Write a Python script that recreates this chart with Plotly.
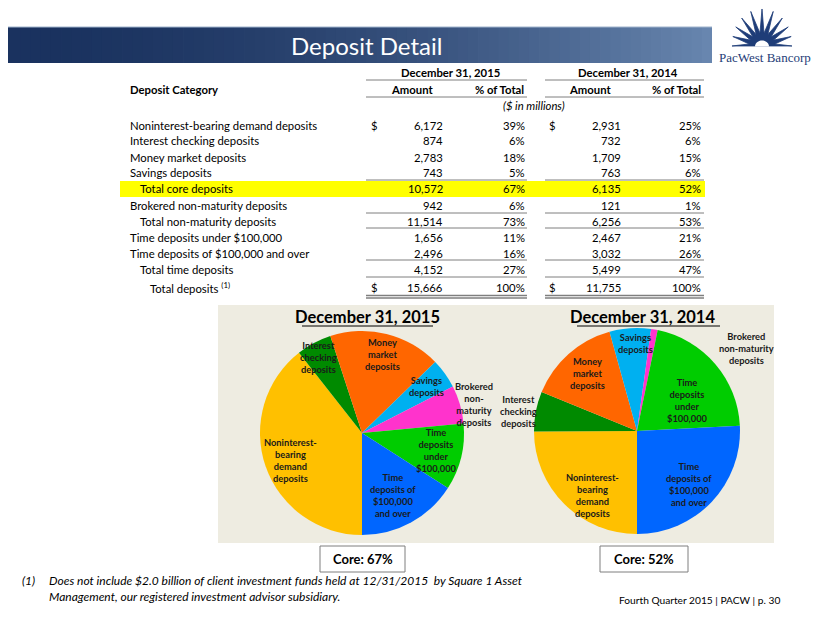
import math
import plotly.graph_objects as go

# ---------------- data ----------------
categories = [
    "Noninterest-bearing demand deposits",
    "Interest checking deposits",
    "Money market deposits",
    "Savings deposits",
    "Total core deposits",
    "Brokered non-maturity deposits",
    "Total non-maturity deposits",
    "Time deposits under $100,000",
    "Time deposits of $100,000 and over",
    "Total time deposits",
    "Total deposits",
]
amount_2015 = [6172, 874, 2783, 743, 10572, 942, 11514, 1656, 2496, 4152, 15666]
pct_2015 = [39, 6, 18, 5, 67, 6, 73, 11, 16, 27, 100]
amount_2014 = [2931, 732, 1709, 763, 6135, 121, 6256, 2467, 3032, 5499, 11755]
pct_2014 = [25, 6, 15, 6, 52, 1, 53, 21, 26, 47, 100]

pie_rows = [0, 1, 2, 3, 5, 7, 8]  # base categories used in the pies
pie_values_2015 = [amount_2015[i] for i in pie_rows]
pie_values_2014 = [amount_2014[i] for i in pie_rows]
pie_names = [categories[i] for i in pie_rows]
pie_colors = ["#FFC000", "#008A00", "#FF6600", "#00B0F0", "#FF33CC", "#00CC00", "#0066FF"]

core_2015 = pct_2015[4]
core_2014 = pct_2014[4]

# ---------------- helpers ----------------
W, H = 830, 623
OFF = 8  # page body margin of the browser
FONT = "Lato, 'Open Sans', sans-serif"


def X(px):
    return max(px - OFF, 0) / W


def Y(py):
    return 1 - max(py - OFF, 0) / H


shapes = []
ann = []


def text(x, y, s, size=11.5, color="#000", xanchor="left", bold=False, italic=False, family=FONT,
         yanchor="middle", align="left"):
    if bold:
        s = "<b>" + s + "</b>"
    if italic:
        s = "<i>" + s + "</i>"
    ann.append(dict(x=X(x), y=Y(y), xref="paper", yref="paper", text=s, showarrow=False,
                    xanchor=xanchor, yanchor=yanchor, align=align,
                    font=dict(family=family, size=size, color=color)))


def hline(x0, x1, y, color="#7f7f7f", width=1):
    shapes.append(dict(type="line", xref="paper", yref="paper", x0=X(x0), x1=X(x1), y0=Y(y), y1=Y(y),
                       line=dict(color=color, width=width)))


def rect(x0, y0, x1, y1, fill, line_color=None, line_width=0, layer="below"):
    shapes.append(dict(type="rect", xref="paper", yref="paper", x0=X(x0), x1=X(x1), y0=Y(y1), y1=Y(y0),
                       fillcolor=fill, line=dict(color=line_color or fill, width=line_width), layer=layer))


# ---------------- header band (gradient) ----------------
n = 70
bx0, bx1 = 0, 712
c0 = (26, 50, 95)
c1 = (104, 134, 175)
for i in range(n):
    t = (i / (n - 1)) ** 1.8
    col = "rgb(%d,%d,%d)" % tuple(int(c0[k] + (c1[k] - c0[k]) * t) for k in range(3))
    xa = bx0 + (bx1 - bx0) * i / n
    xb = bx0 + (bx1 - bx0) * (i + 1) / n + 0.8
    rect(xa, 27, min(xb, bx1), 63, col)
hline(0, 712, 27, color="#9fb3cc", width=1)
text(366, 45, "Deposit Detail", size=24, color="#ffffff", xanchor="center")

# ---------------- logo ----------------
cx, cy = 762, 46
pts = []
nr = 11
for k in range(nr):
    a0 = math.pi * k / (nr - 1)
    length = 30 + 7 * math.sin(a0) ** 2
    pts.append((cx + length * math.cos(math.pi - a0), cy - length * math.sin(math.pi - a0)))
    if k < nr - 1:
        am = math.pi * (k + 0.5) / (nr - 1)
        rin = 13
        pts.append((cx + rin * math.cos(math.pi - am), cy - rin * math.sin(math.pi - am)))
path = "M %f,%f " % (X(cx - 10), Y(cy))
for (px_, py_) in pts:
    path += "L %f,%f " % (X(px_), Y(py_))
path += "L %f,%f Z" % (X(cx + 10), Y(cy))
shapes.append(dict(type="path", xref="paper", yref="paper", path=path, fillcolor="#1f3d78",
                   line=dict(color="#1f3d78", width=0.8)))
arch = "M %f,%f " % (X(cx - 7), Y(cy + 0.5))
for k in range(21):
    a = math.pi * k / 20
    arch += "L %f,%f " % (X(cx - 7 * math.cos(a)), Y(cy + 0.5 - 6 * math.sin(a)))
arch += "Z"
shapes.append(dict(type="path", xref="paper", yref="paper", path=arch, fillcolor="#ffffff",
                   line=dict(color="#ffffff", width=0)))
text(765, 58, "PacWest Bancorp", size=13, color="#1f3d78", xanchor="center",
     family="'Liberation Serif', 'DejaVu Serif', serif")

# ---------------- table ----------------
col_dollar_15, col_amt_15, col_pct_15 = 374, 445, 527
col_dollar_14, col_amt_14, col_pct_14 = 552, 623, 703
span15 = (366, 527)
span14 = (545, 704)
FS = 11.3

text(128, 89, "Deposit Category", size=FS, bold=True)
text(450, 72, "December 31, 2015", size=FS, bold=True, xanchor="center")
text(628, 72, "December 31, 2014", size=FS, bold=True, xanchor="center")
hline(*span15, 80)
hline(*span14, 80)
text(412, 89, "Amount", size=FS, bold=True, xanchor="center")
text(526, 89, "% of Total", size=FS, bold=True, xanchor="right")
text(590, 89, "Amount", size=FS, bold=True, xanchor="center")
text(703, 89, "% of Total", size=FS, bold=True, xanchor="right")
hline(*span15, 97)
hline(*span14, 97)
text(534, 105, "($ in millions)", size=FS, italic=True, xanchor="center")

indent = [0, 0, 0, 0, 1, 0, 1, 0, 0, 1, 2]
row_y = [125 + 16 * i for i in range(len(categories))]
row_y[-1] += 2

# highlight for total core deposits
rect(120, row_y[4] - 8, 705, row_y[4] + 8, "#FFFF00")

for i, name in enumerate(categories):
    y = row_y[i]
    label = name + (" <sup>(1)</sup>" if i == len(categories) - 1 else "")
    text(128 + 10 * indent[i], y, label, size=FS)
    if i in (0, len(categories) - 1):
        text(col_dollar_15, y, "$", size=FS, xanchor="center")
        text(col_dollar_14, y, "$", size=FS, xanchor="center")
    text(col_amt_15, y, f"{amount_2015[i]:,}", size=FS, xanchor="right")
    text(col_pct_15, y, f"{pct_2015[i]}%", size=FS, xanchor="right")
    text(col_amt_14, y, f"{amount_2014[i]:,}", size=FS, xanchor="right")
    text(col_pct_14, y, f"{pct_2014[i]}%", size=FS, xanchor="right")

for yl in (row_y[3] + 7, row_y[5] + 8, row_y[6] + 7, row_y[8] + 7, row_y[9] + 8):
    hline(*span15, yl)
    hline(*span14, yl)
for yl in (row_y[10] + 8.5, row_y[10] + 11):
    hline(*span15, yl, width=1.3)
    hline(*span14, yl, width=1.3)

# ---------------- pie panel ----------------
rect(218, 305, 774, 543, "#EEECE1")

c15, r15 = (362, 433), 102
c14, r14 = (637, 431), 103

fig = go.Figure()
fig.add_trace(go.Pie(values=pie_values_2015, labels=pie_names, sort=False, direction="clockwise",
                     rotation=180, textinfo="none", showlegend=False,
                     marker=dict(colors=pie_colors, line=dict(width=0)),
                     domain=dict(x=[X(c15[0] - r15), X(c15[0] + r15)], y=[Y(c15[1] + r15), Y(c15[1] - r15)])))
fig.add_trace(go.Pie(values=pie_values_2014, labels=pie_names, sort=False, direction="clockwise",
                     rotation=180, textinfo="none", showlegend=False,
                     marker=dict(colors=pie_colors, line=dict(width=0)),
                     domain=dict(x=[X(c14[0] - r14), X(c14[0] + r14)], y=[Y(c14[1] + r14), Y(c14[1] - r14)])))

text(367, 317, "December 31, 2015", size=16.5, bold=True, xanchor="center")
hline(302, 433, 326, color="#000", width=1.2)
text(642, 317, "December 31, 2014", size=16.5, bold=True, xanchor="center")
hline(577, 720, 326, color="#000", width=1.2)

pie_text_15 = [
    (290, 460, "Noninterest-<br>bearing<br>demand<br>deposits"),
    (318, 357, "Interest<br>checking<br>deposits"),
    (382, 354, "Money<br>market<br>deposits"),
    (426, 386, "Savings<br>deposits"),
    (474, 404, "Brokered<br>non-<br>maturity<br>deposits"),
    (437, 450, "Time<br>deposits<br>under<br>$100,000"),
    (393, 495, "Time<br>deposits of<br>$100,000<br>and over"),
]
pie_text_14 = [
    (592, 495, "Noninterest-<br>bearing<br>demand<br>deposits"),
    (518, 412, "Interest<br>checking<br>deposits"),
    (587, 373, "Money<br>market<br>deposits"),
    (635, 343, "Savings<br>deposits"),
    (746, 348, "Brokered<br>non-maturity<br>deposits"),
    (687, 400, "Time<br>deposits<br>under<br>$100,000"),
    (689, 484, "Time<br>deposits of<br>$100,000<br>and over"),
]
for (x, y, s) in pie_text_15 + pie_text_14:
    text(x, y, s, size=9.3, bold=True, xanchor="center", align="center", color="#1a1a1a")

# core boxes
rect(320, 546, 405, 572, "#ffffff", line_color="#7f7f7f", line_width=1, layer="above")
text(362.5, 559, f"Core: {core_2015}%", size=13, bold=True, xanchor="center")
rect(600, 546, 688, 572, "#ffffff", line_color="#7f7f7f", line_width=1, layer="above")
text(644, 559, f"Core: {core_2014}%", size=13, bold=True, xanchor="center")

# footnote
text(20, 580, "(1)", size=12, italic=True)
text(47, 580, "Does not include $2.0 billion of client investment funds held at 12/31/2015&nbsp; by Square 1 Asset",
     size=12, italic=True)
text(47, 596, "Management, our registered investment advisor subsidiary.", size=12, italic=True)
text(782, 600, "Fourth Quarter 2015 | PACW | p. 30", size=10.2, xanchor="right")

fig.update_layout(width=W, height=H, margin=dict(l=0, r=0, t=0, b=0),
                  paper_bgcolor="#ffffff", plot_bgcolor="#ffffff",
                  shapes=shapes, annotations=ann, showlegend=False,
                  font=dict(family=FONT))
fig.write_html("out.html")
